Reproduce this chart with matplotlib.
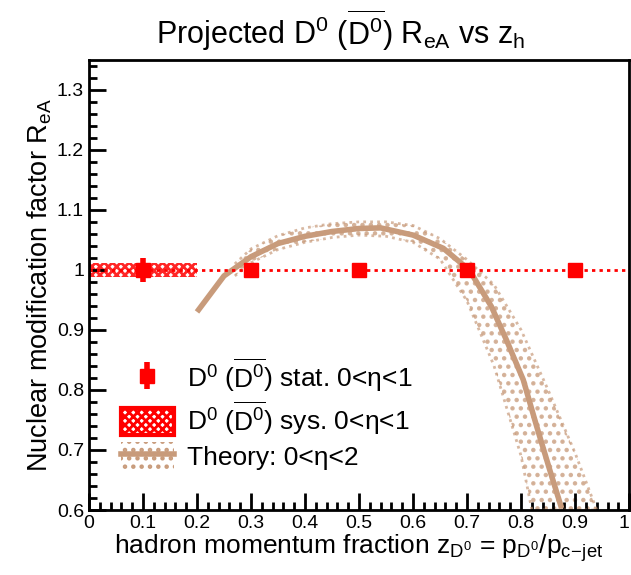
import matplotlib
matplotlib.use("Agg")
import matplotlib.pyplot as plt
from matplotlib.patches import Patch, Rectangle
from matplotlib.lines import Line2D
from matplotlib.ticker import MultipleLocator
import numpy as np

plt.rcParams["font.family"] = ["Liberation Sans", "DejaVu Sans"]
plt.rcParams["mathtext.fontset"] = "custom"
plt.rcParams["mathtext.rm"] = "Liberation Sans"
plt.rcParams["mathtext.it"] = "Liberation Sans:italic"
plt.rcParams["hatch.linewidth"] = 2.0

# projected data points
z_points = [0.1, 0.3, 0.5, 0.7, 0.9]
r_points = [1.0, 1.0, 1.0, 1.0, 1.0]
stat_err = [0.02, 0.004, 0.004, 0.004, 0.004]
sys_z = [0.1]
sys_half_width = [0.1]
sys_err = [0.012]

# theory curve and its band
z_theory = [0.2, 0.25, 0.3, 0.35, 0.4, 0.45, 0.5, 0.54, 0.6, 0.656, 0.704, 0.745,
            0.773, 0.804, 0.829, 0.853, 0.875]
r_theory = [0.93, 0.99, 1.022, 1.044, 1.056, 1.064, 1.069, 1.07, 1.058, 1.036, 1.0, 0.939,
            0.883, 0.817, 0.739, 0.667, 0.603]
z_band = [0.27, 0.3, 0.35, 0.4, 0.45, 0.5, 0.55, 0.6, 0.65, 0.7, 0.75, 0.8, 0.82,
          0.85, 0.9, 0.94]
band_hi = [1.01, 1.035, 1.057, 1.07, 1.077, 1.08, 1.08, 1.074, 1.052, 1.017, 0.975, 0.9,
           0.86, 0.8, 0.695, 0.6]
band_lo = [0.99, 1.012, 1.034, 1.046, 1.054, 1.058, 1.056, 1.046, 1.018, 0.948, 0.84, 0.69,
           0.6, 0.6, 0.6, 0.6]

red = "#ff0000"
tan = "#c89b7b"

fig = plt.figure(figsize=(6.31, 5.75), dpi=100)
ax = fig.add_axes([0.141, 0.113, 0.856, 0.783])

# theory band
ax.fill_between(z_band, band_lo, band_hi, facecolor="none", edgecolor=tan,
                hatch="..", linewidth=0, alpha=0.75)
ax.plot(z_band, band_hi, color=tan, lw=2, ls=(0, (1, 1.5)), alpha=0.7)
ax.plot(z_band, band_lo, color=tan, lw=2, ls=(0, (1, 1.5)), alpha=0.7)
ax.plot(z_theory, r_theory, color=tan, lw=4, solid_capstyle="butt")

# reference line at 1
ax.axhline(1.0, color=red, lw=2, ls=(0, (1.2, 1.5)))

# systematic box
for zc, hw, se in zip(sys_z, sys_half_width, sys_err):
    ax.add_patch(Rectangle((zc - hw, 1.0 - se), 2 * hw, 2 * se, facecolor="none",
                           edgecolor=red, hatch="xxxx", linewidth=0, alpha=0.85))

# stat points
ax.errorbar(z_points, r_points, yerr=stat_err, fmt="s", color=red, ms=10,
            elinewidth=4, capsize=0, zorder=5)

ax.set_xlim(0, 1)
ax.set_ylim(0.6, 1.35)
ax.xaxis.set_minor_locator(MultipleLocator(0.02))
ax.yaxis.set_minor_locator(MultipleLocator(0.02))
ax.tick_params(which="both", direction="in", top=False, right=False, width=2)
ax.tick_params(which="major", length=12, labelsize=14)
ax.tick_params(which="minor", length=6)
ax.set_xticks(np.arange(0, 1.01, 0.1))
ax.set_xticklabels(["0", "0.1", "0.2", "0.3", "0.4", "0.5", "0.6", "0.7", "0.8", "0.9", "1"])
ax.get_xticklabels()[-1].set_horizontalalignment("right")
ax.set_yticks(np.arange(0.6, 1.31, 0.1))
ax.set_yticklabels(["0.6", "0.7", "0.8", "0.9", "1", "1.1", "1.2", "1.3"])
for s in ax.spines.values():
    s.set_linewidth(2)

ax.set_xlabel(r"hadron momentum fraction z$_{\mathrm{D}^0}$ = p$_{\mathrm{D}^0}$/p$_{\mathrm{c\!-\!jet}}$",
              fontsize=19, labelpad=0)
ax.set_ylabel(r"Nuclear modification factor R$_{\mathrm{eA}}$", fontsize=19.5, labelpad=2)
fig.text(0.54, 0.947, r"Projected D$^0$ ($\overline{\mathrm{D}^0}$) R$_{\mathrm{eA}}$ vs z$_{\mathrm{h}}$",
         ha="center", va="center", fontsize=22)

stat_handle = ax.errorbar([], [], yerr=[], fmt="s", color=red, ms=10, elinewidth=4, capsize=4)
sys_handle = Patch(facecolor="none", edgecolor=red, hatch="xxxx", linewidth=3)
band_handle = Patch(facecolor="none", edgecolor=tan, hatch="..", linewidth=0)
line_handle = Line2D([], [], color=tan, lw=4)
ax.legend([stat_handle, sys_handle, (band_handle, line_handle)],
          [r"D$^0$ ($\overline{\mathrm{D}^0}$) stat. 0<η<1",
           r"D$^0$ ($\overline{\mathrm{D}^0}$) sys. 0<η<1",
           "Theory: 0<η<2"],
          loc="upper left", bbox_to_anchor=(0.015, 0.395), frameon=False,
          fontsize=19, handlelength=2.0, handleheight=1.2, labelspacing=0.2,
          handletextpad=0.5)

fig.savefig("out.png", dpi=100)
